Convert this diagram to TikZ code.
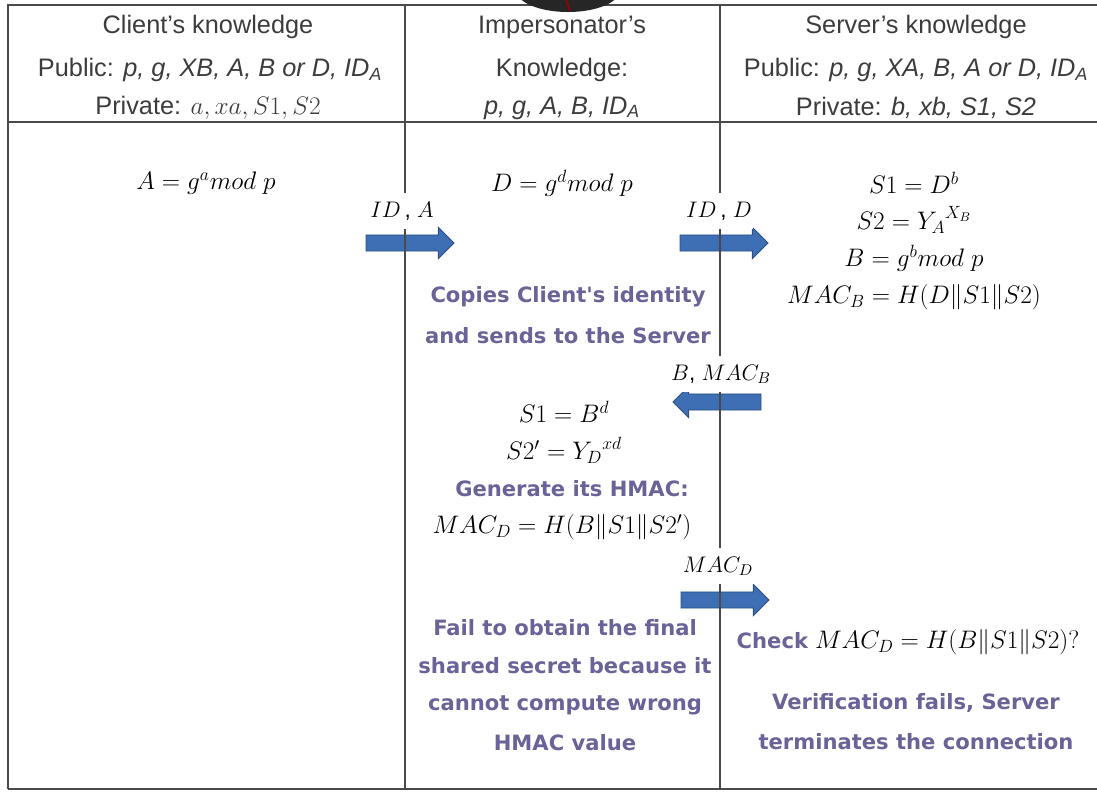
\RequirePackage{fix-cm}
\documentclass[tikz,border=0pt]{standalone}
\usepackage{amsmath}
\usepackage{fontspec}
\setmainfont{Liberation Sans}
\newfontfamily\notefont{DejaVu Sans}
\usepackage{tikz}
\usetikzlibrary{shapes.arrows}

\definecolor{rulegray}{HTML}{4A4A4A}
\definecolor{headgray}{HTML}{3C3C3C}
\definecolor{notepurple}{HTML}{6A6398}
\definecolor{arrowblue}{HTML}{3E6EB4}
\definecolor{arrowedge}{HTML}{2C4F86}

\begin{document}
\begin{tikzpicture}[x=0.025cm,y=-0.025cm,
		head/.style={font=\fontsize{18}{21}\selectfont, text=headgray},
		eqn/.style={font=\fontsize{18}{21}\selectfont},
		note/.style={font=\notefont\bfseries\fontsize{15}{18}\selectfont, text=notepurple},
		msg/.style={font=\fontsize{16}{19}\selectfont, fill=white, inner xsep=1pt, inner ysep=6pt},
		blockarrow/.style={single arrow, draw=arrowedge, fill=arrowblue, line width=0.6pt,
			inner xsep=0pt, inner ysep=0.19cm, minimum height=2.2cm,
			single arrow head extend=0.19cm}]
				\useasboundingbox (0,0) rectangle (1097,792);
				
				%Arrows
				\node[blockarrow] (ida) at (406, 243) {};
				\node[blockarrow] (idd) at (720, 243) {};
				\node[blockarrow, shape border rotate=180] (macb) at (721, 402) {};
				\node[blockarrow] (macd) at (721, 600) {};
				
				%Frame
				\draw[rulegray, line width=1.2pt] (8, 789) -- (8, 5) -- (1097, 5);
				\draw[rulegray, line width=1.2pt] (8, 122) -- (1097, 122);
				\draw[rulegray, line width=1.2pt] (8, 789) -- (1097, 789);
				
				%Lines
				\draw[rulegray, line width=1pt] (405, 5) -- (405, 789);
				\draw[rulegray, line width=1pt] (720, 5) -- (720, 789);
				
				%Hat
				\begin{scope}
					\clip (0,0) rectangle (1097, 792);
					\fill[black!85] (568, -10) ellipse (1.3cm and 0.55cm);
					\draw[red!60!black, line width=1.2pt] (566, 0) -- (570, 11);
				\end{scope}
				
				%Client
				\node[head] (clienttitle) at (208, 27) {Client's knowledge};
				\node[head] (clientpub) at (210, 70) {Public: \textit{p, g, XB, A, B or D, ID}\textsubscript{\textit{A}}};
				\node[head] (clientpriv) at (208, 108) {Private: $a, xa, S1, S2$};
				
				%Impersonator
				\node[head] (imptitle) at (562, 27) {Impersonator's};
				\node[head] (impknow) at (562, 70) {Knowledge:};
				\node[head] (imppub) at (562, 108) {\textit{p, g, A, B, ID}\textsubscript{\textit{A}}};
				
				%Server
				\node[head] (servtitle) at (916, 27) {Server's knowledge};
				\node[head] (servpub) at (916, 70) {Public: \textit{p, g, XA, B, A or D, ID}\textsubscript{\textit{A}}};
				\node[head] (servpriv) at (916, 108) {Private: \textit{b, xb, S1, S2}};
				
				%Messages
				\node[msg] (ida lbl) at (402, 211) {$ID$\,, $A$};
				\node[msg] (idd lbl) at (719, 211) {$ID$\,, $D$};
				\node[msg] (macb lbl) at (721, 374) {$B$, $MAC_{B}$};
				\node[msg] (macd lbl) at (718, 566) {$MAC_{D}$};
				
				%Client side
				\node[eqn] (cla) at (206, 183) {$A = g^a mod\ p$};
				
				%Impersonator side
				\node[eqn] (impd) at (562, 183) {$D = g^d mod\ p$};
				\node[note] (copy1) at (568, 297) {Copies Client's identity};
				\node[note] (copy2) at (568, 336) {and sends to the Server};
				\node[eqn] (imps1) at (564, 412) {$S1 = B^d$};
				\node[eqn] (imps2) at (564, 450) {$S2' = {Y_D}^{xd}$};
				\node[note] (gen) at (572, 489) {Generate its HMAC:};
				\node[eqn] (impmac) at (562, 527) {$MAC_D = H(B\|S1\|S2')$};
				\node[note] (fail1) at (565, 628) {Fail to obtain the final};
				\node[note] (fail2) at (565, 666) {shared secret because it};
				\node[note] (fail3) at (565, 705) {cannot compute wrong};
				\node[note] (fail4) at (565, 743) {HMAC value};
				
				%Server side
				\node[eqn] (srvs1) at (914, 183) {$S1 = D^b$};
				\node[eqn] (srvs2) at (914, 220) {$S2 = {Y_A}^{X_B}$};
				\node[eqn] (srvb) at (914, 258) {$B = g^b mod\ p$};
				\node[eqn] (srvmac) at (914, 297) {$MAC_B = H(D\|S1\|S2)$};
				\node[eqn] (check) at (908, 642) {\textcolor{notepurple}{\notefont\bfseries\fontsize{15}{18}\selectfont Check} $MAC_D = H(B\|S1\|S2)?$};
				\node[note] (verif1) at (916, 703) {Verification fails, Server};
				\node[note] (verif2) at (916, 742) {terminates the connection};
			\end{tikzpicture}
\end{document}
